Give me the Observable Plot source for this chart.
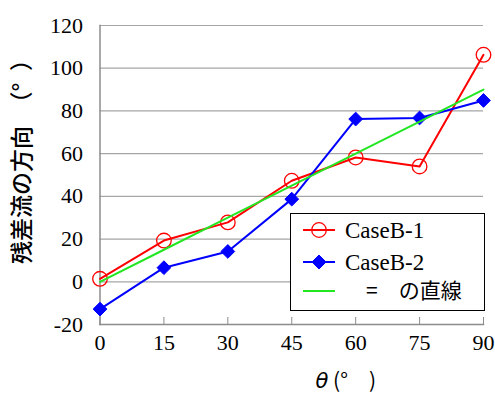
<!DOCTYPE html>
<html>
<head>
<meta charset="utf-8">
<script src="https://cdn.jsdelivr.net/npm/d3@7"></script>
<script src="https://cdn.jsdelivr.net/npm/@observablehq/plot@0.6"></script>
<style>
  html, body { margin: 0; padding: 0; background: #fff; }
  #wrap { position: relative; width: 495px; height: 394px; }
  #legend { position: absolute; left: 290px; top: 213px; width: 195px; height: 98px;
            border: 1.5px solid #000; background: #fff; box-sizing: border-box; }
</style>
</head>
<body>
<div id="wrap"></div>
<script>
const theta = [0, 15, 30, 45, 60, 75, 90];
const caseB1 = [1.4, 19.3, 27.8, 47.3, 58.2, 54.0, 106.3];
const caseB2 = [-12.8, 6.6, 14.2, 38.7, 76.2, 76.7, 84.9];
const refLine = [0, 15, 30, 45, 60, 75, 90];
const yTicks = [-20, 0, 20, 40, 60, 80, 100, 120];
const xTicks = [0, 15, 30, 45, 60, 75, 90];
const seriesNames = ["CaseB-1", "CaseB-2", "\u3000=\u3000の直線"];
const colors = ["#ff0000", "#0000ff", "#22e622"];
const yLabel = "残差流の方向\u3000（°\u2002）";
const xLabel = "θ (°\u3000)";

const d1 = theta.map((t, i) => ({x: t, y: caseB1[i]}));
const d2 = theta.map((t, i) => ({x: t, y: caseB2[i]}));
const dRef = theta.map((t, i) => ({x: t, y: refLine[i]}));

const FONT_SERIF = "Liberation Serif";
const FONT_CJK = "Noto Sans CJK JP";

const chart = Plot.plot({
  width: 495,
  height: 394,
  marginLeft: 99.5,
  marginRight: 12,
  marginTop: 25,
  marginBottom: 70,
  style: {fontFamily: FONT_SERIF, background: "#fff", overflow: "visible"},
  x: {domain: [0, 90], ticks: xTicks},
  y: {domain: [-20, 120], ticks: yTicks},
  marks: [
    Plot.gridY(yTicks, {stroke: "#a6a6a6", strokeOpacity: 1, strokeWidth: 1.2}),
    Plot.frame({anchor: "left", stroke: "#8c8c8c", strokeWidth: 1.5}),
    Plot.frame({anchor: "bottom", stroke: "#8c8c8c", strokeWidth: 1.5}),
    Plot.axisY(yTicks, {tickSize: 0, tickPadding: 17, fontSize: 22, fontFamily: FONT_SERIF, fill: "#000", label: null, tickFormat: d => String(d)}),
    Plot.axisX(xTicks, {tickSize: -7, tickPadding: 17, fontSize: 22, fontFamily: FONT_SERIF, fill: "#000", stroke: "#8c8c8c", label: null, tickFormat: d => String(d)}),
    Plot.line(d1, {x: "x", y: "y", stroke: colors[0], strokeWidth: 2}),
    Plot.dot(d1, {x: "x", y: "y", stroke: colors[0], fill: "none", r: 7.3, strokeWidth: 1.3}),
    Plot.line(d2, {x: "x", y: "y", stroke: colors[1], strokeWidth: 2}),
    Plot.dot(d2, {x: "x", y: "y", symbol: "diamond2", fill: colors[1], stroke: colors[1], strokeWidth: 1, r: 6.2}),
    Plot.line(dRef, {x: "x", y: "y", stroke: colors[2], strokeWidth: 2}),
    Plot.text([yLabel], {frameAnchor: "left", text: d => d, rotate: -90, textAnchor: "middle", dx: -77, dy: -19, fontSize: 23, fontWeight: 500, fontFamily: FONT_CJK, fill: "#000"}),
    Plot.text([xLabel], {frameAnchor: "bottom", text: d => d, textAnchor: "middle", lineAnchor: "bottom", dx: 54, dy: 63, fontSize: 21, fontFamily: FONT_CJK, fill: "#000", className: "xlab"})
  ]
});

const wrap = document.getElementById("wrap");
wrap.appendChild(chart);

// italic theta in x label
d3.select(chart).selectAll(".xlab text").each(function () {
  const t = d3.select(this);
  const s = t.text();
  t.text(null);
  t.append("tspan").attr("font-style", "italic").attr("font-family", "DejaVu Sans").text(s[0]);
  t.append("tspan").text(s.slice(1));
});

// Legend
const leg = document.createElement("div");
leg.id = "legend";
wrap.appendChild(leg);
const lsvg = d3.select(leg).append("svg").attr("width", 192).attr("height", 95)
  .style("position", "absolute").style("left", "0").style("top", "0");
const rowY = [16, 48, 77];
seriesNames.forEach((name, i) => {
  const g = lsvg.append("g").attr("transform", `translate(0,${rowY[i]})`);
  g.append("line").attr("x1", 12).attr("x2", 44).attr("y1", 0).attr("y2", 0)
    .attr("stroke", colors[i]).attr("stroke-width", 2);
  if (i === 0) {
    g.append("circle").attr("cx", 28).attr("cy", 0).attr("r", 7.3)
      .attr("fill", "none").attr("stroke", colors[0]).attr("stroke-width", 1.3);
  } else if (i === 1) {
    g.append("path").attr("d", d3.symbol(d3.symbolDiamond2, 125)()).attr("transform", "translate(28,0)")
      .attr("fill", colors[1]).attr("stroke", colors[1]);
  }
  g.append("text").attr("x", 54).attr("y", 0).attr("dy", "0.35em")
    .attr("font-family", i === 2 ? FONT_CJK : FONT_SERIF).attr("font-size", i === 2 ? 21 : 23)
    .attr("fill", "#000").text(name);
});
</script>
</body>
</html>
